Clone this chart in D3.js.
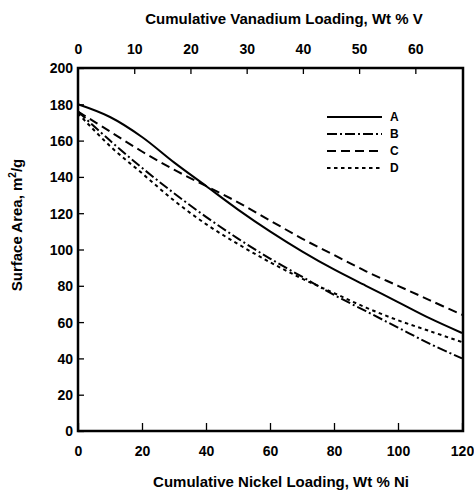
<!DOCTYPE html>
<html>
<head>
<meta charset="utf-8">
<script src="https://cdn.jsdelivr.net/npm/d3@7"></script>
<style>
  body { margin: 0; background: #fff; }
  text { font-family: "Liberation Sans", Arial, sans-serif; font-weight: bold; fill: #000; }
</style>
</head>
<body>
<div id="chartDiv"></div>
<script>
// data
const nickel = [0, 10, 20, 30, 40, 50, 60, 70, 80, 90, 100, 110, 120];
const seriesA = [180, 173, 162, 148, 135, 122, 110, 99, 89, 80, 71, 62, 54];
const seriesB = [176, 160, 145, 131, 118, 106, 95, 85, 75, 66, 57, 48, 40];
const seriesC = [176, 165, 154, 144, 135, 126, 116, 106, 97, 88, 80, 72, 64];
const seriesD = [175, 157, 142, 127, 114, 103, 93, 84, 76, 68, 61, 55, 49];
const nickelTicks = [0, 20, 40, 60, 80, 100, 120];
const vanadiumTicks = [0, 10, 20, 30, 40, 50, 60];
const areaTicks = [0, 20, 40, 60, 80, 100, 120, 140, 160, 180, 200];
const names = ['A', 'B', 'C', 'D'];

const width = 474, height = 490;
const plot = { left: 78, right: 462, top: 68, bottom: 431 };

let svg = d3.select('#chartDiv').append('svg')
    .attr('width', width)
    .attr('height', height);

let x = d3.scaleLinear().domain([0, 120]).range([plot.left, plot.right]);
let xTop = d3.scaleLinear().domain([0, 68.3]).range([plot.left, plot.right]);
let y = d3.scaleLinear().domain([0, 200]).range([plot.bottom, plot.top]);

// axes, ticks pointing into the plot
let xAxis = d3.axisBottom(x).tickValues(nickelTicks).tickSizeInner(-8).tickSizeOuter(0).tickPadding(15);
let xTopAxis = d3.axisTop(xTop).tickValues(vanadiumTicks).tickSizeInner(-6).tickSizeOuter(0).tickPadding(14);
let yAxis = d3.axisLeft(y).tickValues(areaTicks).tickSizeInner(-6).tickSizeOuter(0).tickPadding(5);

function styleAxis(g) {
    g.select('.domain').remove();
    g.selectAll('.tick line').attr('stroke', '#000').attr('stroke-width', 1.3);
    g.selectAll('.tick text').style('font-size', '14px');
}

svg.append('g').attr('transform', `translate(0, ${plot.bottom})`).call(xAxis).call(styleAxis);
svg.append('g').attr('transform', `translate(0, ${plot.top})`).call(xTopAxis).call(styleAxis)
    .selectAll('.tick').filter(d => d === 0).select('line').remove();
svg.append('g').attr('transform', `translate(${plot.left}, 0)`).call(yAxis).call(styleAxis)
    .selectAll('.tick text').attr('dy', '0.35em');

// frame
svg.append('rect')
    .attr('x', plot.left)
    .attr('y', plot.top)
    .attr('width', x(120) - plot.left + 1)
    .attr('height', plot.bottom - plot.top)
    .attr('fill', 'none')
    .attr('stroke', '#000')
    .attr('stroke-width', 2.5);

// curves
const series = { A: seriesA, B: seriesB, C: seriesC, D: seriesD };
const dashes = { A: null, B: '10,3,2,3', C: '9,5', D: '3.5,3.5' };

let line = d3.line()
    .x((d, i) => x(nickel[i]))
    .y(d => y(d))
    .curve(d3.curveCatmullRom.alpha(0.5));

names.forEach(n => {
    svg.append('path')
        .datum(series[n])
        .attr('d', line)
        .attr('fill', 'none')
        .attr('stroke', '#000')
        .attr('stroke-width', 2)
        .attr('stroke-dasharray', dashes[n]);
});

// legend
let legend = svg.append('g');
names.forEach((n, i) => {
    let ly = 117 + i * 17;
    legend.append('line')
        .attr('x1', 327).attr('x2', 382)
        .attr('y1', ly).attr('y2', ly)
        .attr('stroke', '#000')
        .attr('stroke-width', 2)
        .attr('stroke-dasharray', dashes[n]);
    legend.append('text')
        .attr('x', 390).attr('y', ly)
        .attr('dy', '0.35em')
        .style('font-size', '12px')
        .text(n);
});

// titles
svg.append('text')
    .attr('x', 284).attr('y', 24)
    .style('text-anchor', 'middle')
    .style('font-size', '15px')
    .text('Cumulative Vanadium Loading, Wt % V');

svg.append('text')
    .attr('x', 281).attr('y', 487)
    .style('text-anchor', 'middle')
    .style('font-size', '15px')
    .text('Cumulative Nickel Loading, Wt % Ni');

let yTitle = svg.append('text')
    .attr('transform', 'translate(22, 225) rotate(-90)')
    .style('text-anchor', 'middle')
    .style('font-size', '15px');
yTitle.append('tspan').text('Surface Area, m');
yTitle.append('tspan').attr('dy', -6).style('font-size', '10px').text('2');
yTitle.append('tspan').attr('dy', 6).text('/g');
</script>
</body>
</html>
